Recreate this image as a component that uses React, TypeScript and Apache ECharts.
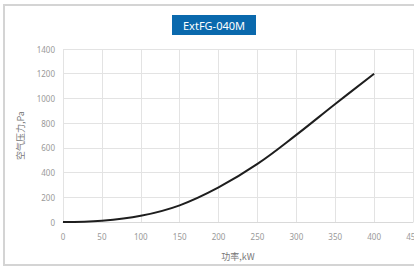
import React, { useEffect, useRef } from "react";
import * as echarts from "echarts";

const title = "ExtFG-040M";
const xName = "功率,kW";
const yName = "空气压力,Pa";
const xValues = [0, 50, 100, 150, 200, 250, 300, 350, 400];
const yValues = [0, 10, 50, 135, 280, 470, 705, 955, 1200];

export default function App() {
  const ref = useRef<HTMLDivElement>(null);
  useEffect(() => {
    document.body.style.margin = "0";
    const chart = echarts.init(ref.current!, null, { renderer: "svg" });
    chart.setOption({
      animation: false,
      backgroundColor: "#ffffff",
      graphic: [
        {
          type: "rect",
          shape: { x: 4, y: 5, width: 420, height: 260 },
          style: { fill: "none", stroke: "#d4d4d4", lineWidth: 2 },
          silent: true,
        },
        {
          type: "rect",
          shape: { x: 172, y: 15, width: 84, height: 20 },
          style: { fill: "#0a69ad" },
        },
        {
          type: "text",
          x: 214,
          y: 25,
          style: {
            text: title,
            fill: "#ffffff",
            fontSize: 11,
            fontFamily: "Noto Sans",
            align: "center",
            verticalAlign: "middle",
          },
        },
      ],
      grid: { left: 63, right: 1, top: 49, bottom: 53, outerBoundsMode: "none", containLabel: false },
      xAxis: {
        type: "value",
        min: 0,
        max: 450,
        interval: 50,
        name: xName,
        nameLocation: "middle",
        nameGap: 30,
        nameTextStyle: { color: "#777", fontSize: 9, fontFamily: "Noto Sans CJK SC" },
        axisLine: { show: true, lineStyle: { color: "#d9d9d9" } },
        axisTick: { show: false },
        axisLabel: { color: "#999", fontSize: 8, margin: 10, fontFamily: "Noto Sans" },
        splitLine: { show: true, lineStyle: { color: "#e3e3e3" } },
      },
      yAxis: {
        type: "value",
        min: 0,
        max: 1400,
        interval: 200,
        name: yName,
        nameLocation: "middle",
        nameGap: 38,
        nameRotate: 90,
        nameTextStyle: { color: "#777", fontSize: 9, fontFamily: "Noto Sans CJK SC" },
        axisLine: { show: false },
        axisTick: { show: false },
        axisLabel: {
          color: "#999",
          fontSize: 8,
          margin: 8,
          fontFamily: "Noto Sans",
          formatter: (v: number) => String(v),
        },
        splitLine: { show: true, lineStyle: { color: "#e3e3e3" } },
      },
      series: [
        {
          type: "line",
          data: xValues.map((x, i) => [x, yValues[i]]),
          smooth: 0.4,
          symbol: "none",
          lineStyle: { color: "#1e1e1e", width: 2 },
        },
      ],
    });
    return () => chart.dispose();
  }, []);
  return <div ref={ref} style={{ width: 414, height: 275 }} />;
}
